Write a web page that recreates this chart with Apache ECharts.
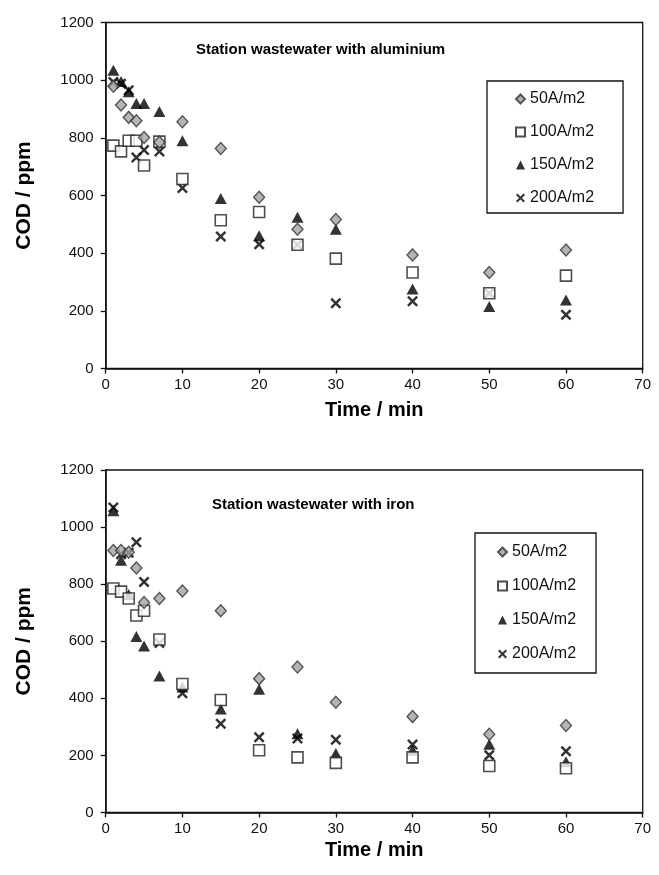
<!DOCTYPE html>
<html>
<head>
<meta charset="utf-8">
<script src="https://cdn.jsdelivr.net/npm/echarts@6/dist/echarts.min.js"></script>
<style>
  html, body { margin: 0; padding: 0; background: #fff; }
  #chart { width: 659px; height: 875px; }
</style>
</head>
<body>
<div id="chart"></div>
<script>
// Sampling times (min)
const times = [1, 2, 3, 4, 5, 7, 10, 15, 20, 25, 30, 40, 50, 60];

// COD (ppm) with aluminium electrodes
const al50  = [979, 914, 871, 859, 801, 785, 856, 763, 594, 483, 517, 394, 333, 411];
const al100 = [773, 753, 790, 790, 704, 787, 657, 514, 543, 429, 381, 333, 261, 322];
const al150 = [1034, 995, 960, 919, 919, 891, 790, 590, 460, 525, 483, 276, 215, 238];
const al200 = [994, 988, 965, 732, 758, 753, 626, 458, 431, 429, 226, 233, 261, 186];

// COD (ppm) with iron electrodes
const fe50  = [918, 918, 912, 857, 736, 750, 776, 707, 469, 510, 386, 336, 274, 305];
const fe100 = [785, 774, 750, 690, 707, 606, 450, 394, 218, 193, 174, 193, 163, 155];
const fe150 = [1057, 884, 764, 617, 583, 478, 440, 363, 432, 276, 207, 218, 239, 178];
const fe200 = [1069, 905, 910, 947, 808, 594, 418, 311, 264, 259, 255, 238, 201, 215];

const seriesNames = ['50A/m2', '100A/m2', '150A/m2', '200A/m2'];
const panelTitles = ['Station wastewater with aluminium', 'Station wastewater with iron'];
const yTicks = { min: 0, max: 1200, step: 200 };
const xTicks = { min: 0, max: 70, step: 10 };

const FONT = '"Liberation Sans", Arial, sans-serif';
const CROSS = 'path://M0,1.6L1.6,0L5,3.4L8.4,0L10,1.6L6.6,5L10,8.4L8.4,10L5,6.6L1.6,10L0,8.4L3.4,5Z';

const markerStyles = [
  { symbol: 'diamond', symbolSize: [11, 12], itemStyle: { color: '#a3a3a3', borderColor: '#333', borderWidth: 1.4 } },
  { symbol: 'rect', symbolSize: 11, itemStyle: { color: '#fff', borderColor: '#222', borderWidth: 1.6 } },
  { symbol: 'triangle', symbolSize: [12, 11], itemStyle: { color: '#000', borderWidth: 0 } },
  { symbol: CROSS, symbolSize: 11, itemStyle: { color: '#000', borderWidth: 0 } }
];

function pairs(ys) { return times.map((t, i) => [t, ys[i]]); }

const panels = [[al50, al100, al150, al200], [fe50, fe100, fe150, fe200]];

const grids = [
  { left: 105.7, right: 16.3, top: 22.5, height: 346 },
  { left: 105.7, right: 16.3, top: 470, height: 342.5 }
].map(g => Object.assign({ show: true, borderColor: '#111', borderWidth: 1.3, backgroundColor: '#fff' }, g));

const nameGapsX = [32, 28];

function xAxis(i) {
  return {
    gridIndex: i, type: 'value', min: xTicks.min, max: xTicks.max, interval: xTicks.step,
    name: 'Time / min', nameLocation: 'middle', nameGap: nameGapsX[i],
    nameTextStyle: { fontFamily: FONT, fontSize: 20, fontWeight: 'bold', color: '#000' },
    axisLine: { onZero: false, lineStyle: { color: '#111', width: 1.5 } },
    axisTick: { show: true, length: 5, lineStyle: { color: '#111', width: 1.3 } },
    axisLabel: { fontFamily: FONT, fontSize: 15, color: '#111', margin: 9 },
    splitLine: { show: false }
  };
}
function yAxis(i) {
  return {
    gridIndex: i, type: 'value', min: yTicks.min, max: yTicks.max, interval: yTicks.step,
    name: 'COD / ppm', nameLocation: 'middle', nameGap: 71, nameRotate: 90,
    nameTextStyle: { fontFamily: FONT, fontSize: 21, fontWeight: 'bold', color: '#000' },
    axisLine: { onZero: false, lineStyle: { color: '#111', width: 1.5 } },
    axisTick: { show: true, length: 5, lineStyle: { color: '#111', width: 1.3 } },
    axisLabel: { fontFamily: FONT, fontSize: 15, color: '#111', margin: 12, formatter: v => String(v) },
    splitLine: { show: false }
  };
}

const series = [];
panels.forEach((sets, p) => {
  sets.forEach((ys, k) => {
    series.push(Object.assign({
      type: 'scatter', name: seriesNames[k], xAxisIndex: p, yAxisIndex: p,
      data: pairs(ys), z: 10 - k
    }, markerStyles[k]));
  });
});

function legend(left, top, gap, padding) {
  return {
    data: seriesNames, orient: 'vertical', left: left, top: top, itemGap: gap,
    itemWidth: 9, itemHeight: 9, padding: padding,
    borderColor: '#111', borderWidth: 1.3, backgroundColor: '#fff',
    selectedMode: false,
    textStyle: { fontFamily: FONT, fontSize: 16, color: '#111' }
  };
}

const chart = echarts.init(document.getElementById('chart'), null, { renderer: 'canvas' });
chart.setOption({
  animation: false,
  backgroundColor: '#fff',
  title: [
    { text: panelTitles[0], left: 191, top: 37, textStyle: { fontFamily: FONT, fontSize: 15, fontWeight: 'bold', color: '#000' } },
    { text: panelTitles[1], left: 207, top: 492, textStyle: { fontFamily: FONT, fontSize: 15, fontWeight: 'bold', color: '#000' } }
  ],
  grid: grids,
  xAxis: [xAxis(0), xAxis(1)],
  yAxis: [yAxis(0), yAxis(1)],
  legend: [
    legend(487, 81, 17, [10, 29, 7, 28]),
    legend(475, 533, 18, [11, 20, 11, 22])
  ],
  series: series
});
</script>
</body>
</html>
